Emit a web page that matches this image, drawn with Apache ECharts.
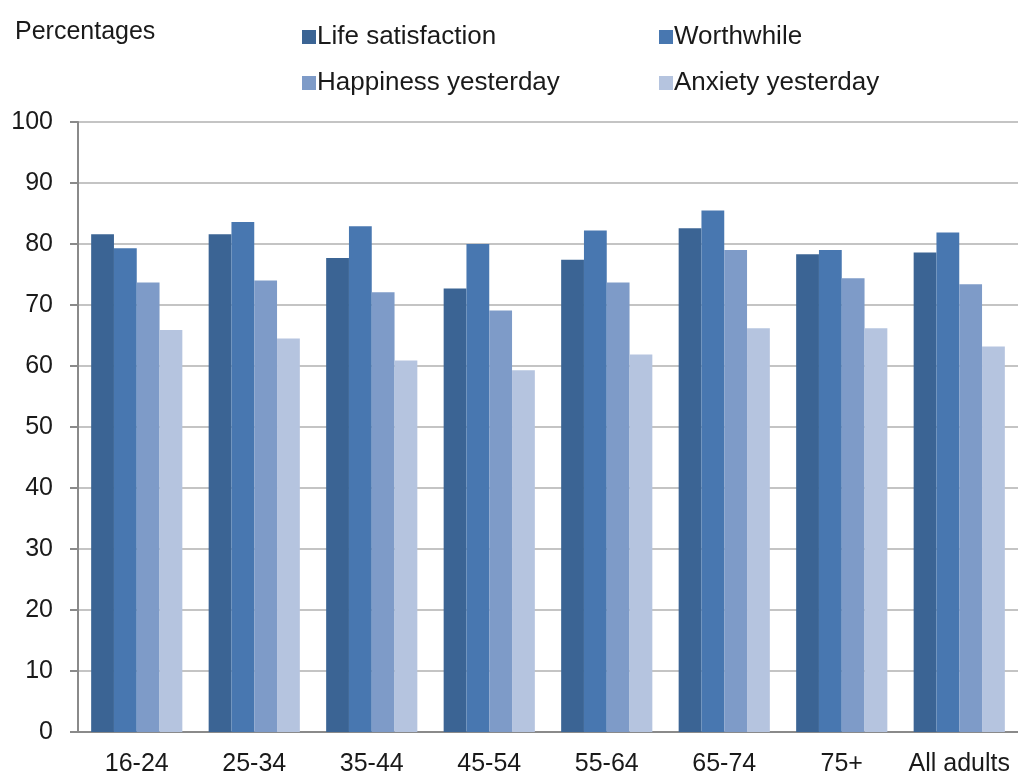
<!DOCTYPE html>
<html>
<head>
<meta charset="utf-8">
<script src="https://cdn.jsdelivr.net/npm/echarts@6/dist/echarts.min.js"></script>
<style>
  html, body { margin: 0; padding: 0; background: #ffffff; }
  #chart { width: 1018px; height: 777px; }
</style>
</head>
<body>
<div id="chart"></div>
<script>
// Age groups along the x axis
const categories = ['16-24', '25-34', '35-44', '45-54', '55-64', '65-74', '75+', 'All adults'];

// Percentage of adults per wellbeing measure
const lifeSatisfaction = [81.6, 81.6, 77.7, 72.7, 77.4, 82.6, 78.3, 78.6];
const worthwhile       = [79.3, 83.6, 82.9, 80.0, 82.2, 85.5, 79.0, 81.9];
const happiness        = [73.7, 74.0, 72.1, 69.1, 73.7, 79.0, 74.4, 73.4];
const anxiety          = [65.9, 64.5, 60.9, 59.3, 61.9, 66.2, 66.2, 63.2];

const seriesNames = ['Life satisfaction', 'Worthwhile', 'Happiness yesterday', 'Anxiety yesterday'];
const seriesColors = ['#3b6494', '#4877b0', '#7e9bc8', '#b5c4df'];
const seriesData = [lifeSatisfaction, worthwhile, happiness, anxiety];

const FONT = '"Liberation Sans", Arial, sans-serif';
const textCol = '#1a1a1a';

// One legend block per entry, laid out as a 2x2 grid
const legendPos = [
  { left: 297, top: 19 },
  { left: 654, top: 19 },
  { left: 297, top: 65 },
  { left: 654, top: 65 }
];

const chart = echarts.init(document.getElementById('chart'), null, { renderer: 'canvas' });

chart.setOption({
  animation: false,
  backgroundColor: '#ffffff',
  title: {
    text: 'Percentages',
    left: 10,
    top: 15,
    textStyle: { fontFamily: FONT, fontSize: 25, fontWeight: 'normal', color: textCol }
  },
  legend: seriesNames.map((n, i) => ({
    data: [n],
    left: legendPos[i].left,
    top: legendPos[i].top,
    itemWidth: 14,
    itemHeight: 14,
    itemGap: 0,
    icon: 'rect',
    textStyle: { fontFamily: FONT, fontSize: 26, color: textCol, padding: [0, 0, 0, -4] }
  })),
  grid: { left: 78, top: 122, width: 949, height: 610, containLabel: false },
  xAxis: {
    type: 'category',
    data: categories,
    axisLine: { lineStyle: { color: '#8a8a8a', width: 2 } },
    axisTick: { show: false },
    axisLabel: { interval: 0, fontFamily: FONT, fontSize: 25, color: textCol, margin: 20 }
  },
  yAxis: {
    type: 'value',
    min: 0,
    max: 100,
    interval: 10,
    axisLine: { show: true, lineStyle: { color: '#8a8a8a', width: 2 } },
    axisTick: { show: true, length: 8, lineStyle: { color: '#8a8a8a', width: 2 } },
    axisLabel: { fontFamily: FONT, fontSize: 25, color: textCol, margin: 25 },
    splitLine: { lineStyle: { color: '#c4c4c4', width: 2 } }
  },
  series: seriesNames.map((n, i) => ({
    name: n,
    type: 'bar',
    data: seriesData[i],
    barGap: '0%',
    barCategoryGap: '22.4%',
    itemStyle: { color: seriesColors[i] }
  }))
});
</script>
</body>
</html>
